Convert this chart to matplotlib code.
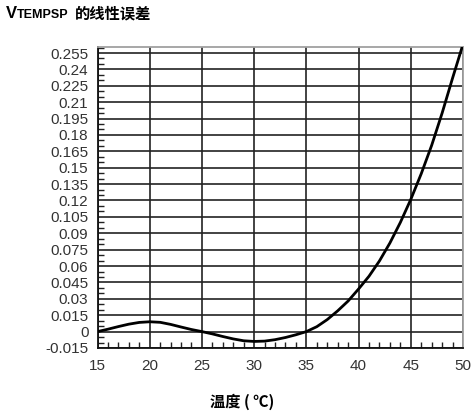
import numpy as np
import matplotlib.pyplot as plt
from matplotlib.ticker import MultipleLocator, FixedLocator
from matplotlib.transforms import offset_copy

plt.rcParams['font.family'] = ['Liberation Sans', 'Noto Sans CJK SC', 'DejaVu Sans']

# temperature (C) vs linearity error of VTEMPSP
temp = [15, 16, 17, 18, 19, 20, 21, 22, 23, 24, 25, 26, 27, 28, 29, 30, 31, 32,
        33, 34, 35, 36, 37, 38, 39, 40, 41, 42, 43, 44, 45, 46, 47, 48, 49, 50]
err = [0.0, 0.0022, 0.0046, 0.0068, 0.0084, 0.009, 0.0085, 0.0066, 0.0042, 0.0019,
       0.0, -0.0021, -0.0045, -0.0067, -0.0084, -0.009, -0.0087, -0.0074, -0.0054,
       -0.0029, 0.0, 0.0045, 0.011, 0.019, 0.028, 0.039, 0.0507, 0.0647, 0.0811,
       0.0999, 0.121, 0.1445, 0.1705, 0.2, 0.232, 0.263]

xticks = [15, 20, 25, 30, 35, 40, 45, 50]
yticks = [-0.015, 0, 0.015, 0.03, 0.045, 0.06, 0.075, 0.09, 0.105, 0.12, 0.135,
          0.15, 0.165, 0.18, 0.195, 0.21, 0.225, 0.24, 0.255]
ylabels = ['-0.015', '0', '0.015', '0.03', '0.045', '0.06', '0.075', '0.09', '0.105',
           '0.12', '0.135', '0.15', '0.165', '0.18', '0.195', '0.21', '0.225', '0.24', '0.255']

fig = plt.figure(figsize=(4.74, 4.17), dpi=100)
ax = fig.add_axes([0.2057, 0.1655, 0.7711, 0.7218])

ax.plot(temp, err, color='black', lw=2.0, solid_capstyle='round',
        solid_joinstyle='round', zorder=3)

ax.set_xlim(15, 50)
ax.set_ylim(-0.015, 0.2605)
ax.set_xticks(xticks)
ax.set_xticklabels([str(t) for t in xticks])
ax.yaxis.set_major_locator(FixedLocator(yticks))
ax.set_yticklabels(ylabels)
ax.xaxis.set_minor_locator(MultipleLocator(1))
ax.yaxis.set_minor_locator(MultipleLocator(0.005))

ax.grid(True, which='major', color='#222222', lw=1.2)
ax.tick_params(which='major', length=0, labelsize=11, labelcolor='#333333')
ax.tick_params(axis='y', which='major', pad=6.5)
ax.tick_params(axis='x', which='major', pad=8)
ax.tick_params(which='minor', direction='in', length=4, width=1, color='#222222')

for s in ['left', 'bottom']:
    ax.spines[s].set_color('#111111')
    ax.spines[s].set_linewidth(1.3)
for s in ['top', 'right']:
    ax.spines[s].set_color('#a0a0a0')
    ax.spines[s].set_linewidth(1.3)

# title pieces chained one after another
renderer = fig.canvas.get_renderer()
t1 = fig.text(0.012, 0.956, 'V', fontsize=12, fontweight='bold', va='baseline')
ext = t1.get_window_extent(renderer)
t2 = fig.text(ext.x1 / 474 + 0.001, 0.956, 'TEMPSP', fontsize=9, fontweight='bold',
              va='baseline')
ext = t2.get_window_extent(renderer)
fig.text(ext.x1 / 474 + 0.012, 0.956, '的线性误差', fontsize=11, fontweight='bold',
         va='baseline', family=['Noto Sans CJK SC', 'DejaVu Sans'])

fig.text(0.51, 0.036, '温度 ( ℃)', fontsize=11, fontweight='bold', ha='center', va='center',
         family=['Noto Sans CJK SC', 'DejaVu Sans'])

fig.savefig('out.png', dpi=100)
